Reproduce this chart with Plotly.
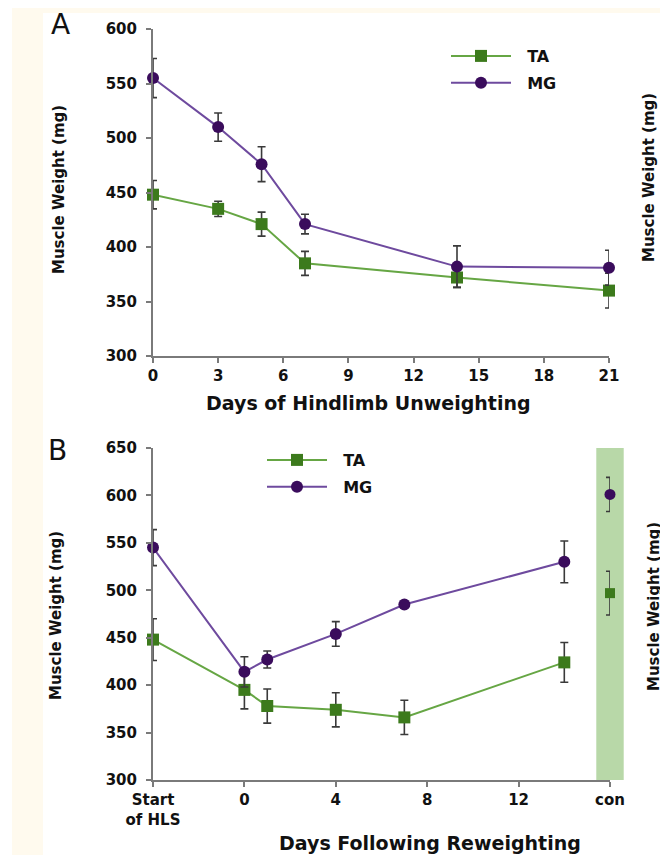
import plotly.graph_objects as go

# ---------------- Data ----------------
# Panel A: days of hindlimb unweighting
days_a = [0, 3, 5, 7, 14, 21]
ta_a = [448, 435, 421, 385, 372, 360]
ta_a_err = [13, 7, 11, 11, 9, 16]
mg_a = [555, 510, 476, 421, 382, 381]
mg_a_err = [18, 13, 16, 9, 19, 16]

# Panel B: days following reweighting (-4 = start of HLS, 16 = control)
days_b = [-4, 0, 1, 4, 7, 14]
ta_b = [448, 395, 378, 374, 366, 424]
ta_b_err = [22, 20, 18, 18, 18, 21]
mg_b = [545, 414, 427, 454, 485, 530]
mg_b_err = [19, 16, 9, 13, 0, 22]
con_x = [16]
ta_con = [497]
ta_con_err = [23]
mg_con = [601]
mg_con_err = [18]

xticks_a = [0, 3, 6, 9, 12, 15, 18, 21]
yticks_a = [300, 350, 400, 450, 500, 550, 600]
xticks_b = [-4, 0, 4, 8, 12, 16]
xticklabels_b = ["Start<br>of HLS", "0", "4", "8", "12", "con"]
yticks_b = [300, 350, 400, 450, 500, 550, 600, 650]
con_band = [15.4, 16.6]
series_names = ["TA", "MG"]

# ---------------- Styling ----------------
W, H = 668, 855
OFF = 8  # page body margin offset
FONT = "DejaVu Sans"
TA_LINE, TA_MARK = "#66a644", "#3c7a1c"
MG_LINE, MG_MARK = "#6e4a9e", "#3a0c5c"
ERR = "#3a3a3a"
AXIS = "#7a7a7a"
PAD = "\u00a0\u00a0"


def px(x):
    return (x - OFF) / W


def py(y):
    return 1 - (y - OFF) / H


def err(vals):
    return dict(type="data", array=vals, visible=True, color=ERR, thickness=1.6, width=4)


fig = go.Figure()

# Panel A
fig.add_trace(go.Scatter(x=days_a, y=ta_a, error_y=err(ta_a_err), mode="lines+markers", name=PAD + series_names[0],
                         line=dict(color=TA_LINE, width=2),
                         marker=dict(symbol="square", size=12, color=TA_MARK),
                         cliponaxis=False, xaxis="x", yaxis="y", legend="legend", legendgroup="a1"))
fig.add_trace(go.Scatter(x=days_a, y=mg_a, error_y=err(mg_a_err), mode="lines+markers", name=PAD + series_names[1],
                         line=dict(color=MG_LINE, width=2),
                         marker=dict(symbol="circle", size=12, color=MG_MARK),
                         cliponaxis=False, xaxis="x", yaxis="y", legend="legend", legendgroup="a2"))

# Panel B
fig.add_trace(go.Scatter(x=days_b, y=ta_b, error_y=err(ta_b_err), mode="lines+markers", name=PAD + series_names[0],
                         line=dict(color=TA_LINE, width=2),
                         marker=dict(symbol="square", size=12, color=TA_MARK),
                         cliponaxis=False, xaxis="x2", yaxis="y2", legend="legend2", legendgroup="b1"))
fig.add_trace(go.Scatter(x=days_b, y=mg_b, error_y=err(mg_b_err), mode="lines+markers", name=PAD + series_names[1],
                         line=dict(color=MG_LINE, width=2),
                         marker=dict(symbol="circle", size=12, color=MG_MARK),
                         cliponaxis=False, xaxis="x2", yaxis="y2", legend="legend2", legendgroup="b2"))
fig.add_trace(go.Scatter(x=con_x, y=ta_con, error_y=err(ta_con_err), mode="markers", showlegend=False,
                         marker=dict(symbol="square", size=10, color=TA_MARK),
                         cliponaxis=False, xaxis="x2", yaxis="y2"))
fig.add_trace(go.Scatter(x=con_x, y=mg_con, error_y=err(mg_con_err), mode="markers", showlegend=False,
                         marker=dict(symbol="circle", size=11, color=MG_MARK),
                         cliponaxis=False, xaxis="x2", yaxis="y2"))

tickfont = dict(family=FONT, size=15, color="#111", weight="bold")
axis_common = dict(showline=True, linecolor=AXIS, linewidth=2, ticks="outside", ticklen=5,
                   tickcolor=AXIS, tickwidth=2, showgrid=False, zeroline=False, tickfont=tickfont,
                   automargin=False)

legend_common = dict(font=dict(family=FONT, size=16, color="#111", weight="bold"),
                     bgcolor="rgba(0,0,0,0)", tracegroupgap=3, itemwidth=60,
                     traceorder="grouped", xanchor="left", yanchor="top")

xa_dom = [px(153), px(609)]
xb_dom = [px(153), px(610)]
xb_range = [-4, 16]


def xb_to_paper(v):
    f = (v - xb_range[0]) / (xb_range[1] - xb_range[0])
    return xb_dom[0] + f * (xb_dom[1] - xb_dom[0])


fig.update_layout(
    width=W, height=H, margin=dict(l=0, r=0, t=0, b=0, autoexpand=False),
    paper_bgcolor="white", plot_bgcolor="white",
    xaxis=dict(domain=xa_dom, range=[0, 21], tickvals=xticks_a, anchor="y", **axis_common),
    yaxis=dict(domain=[py(356), py(29)], range=[300, 600], tickvals=yticks_a, anchor="x",
               ticklabelstandoff=6, **axis_common),
    xaxis2=dict(domain=xb_dom, range=xb_range, tickvals=xticks_b, ticktext=xticklabels_b,
                anchor="y2", **axis_common),
    yaxis2=dict(domain=[py(780), py(448)], range=[300, 650], tickvals=yticks_b, anchor="x2",
                ticklabelstandoff=6, **axis_common),
    legend=dict(x=px(446), y=py(39), **legend_common),
    legend2=dict(x=px(262), y=py(443), **legend_common),
    showlegend=True,
)

# Green control band in panel B (extends past the axis end, so placed in paper space)
fig.add_shape(type="rect", xref="paper", yref="paper",
              x0=xb_to_paper(con_band[0]), x1=xb_to_paper(con_band[1]), y0=py(780), y1=py(448),
              fillcolor="#b8d8a8", line=dict(width=0), layer="below")

# Cream frame on page edge
fig.add_shape(type="rect", xref="paper", yref="paper", x0=px(12), x1=1, y0=py(13), y1=1,
              fillcolor="#fffaee", line=dict(width=0), layer="below")
fig.add_shape(type="rect", xref="paper", yref="paper", x0=px(12), x1=px(43), y0=0, y1=1,
              fillcolor="#fffaee", line=dict(width=0), layer="below")

title_font = dict(family=FONT, size=19, color="#111", weight="bold")
ylab_font = dict(family=FONT, size=15, color="#111", weight="bold")

annotations = [
    dict(text="A", x=px(60), y=py(25), font=dict(family=FONT, size=28, color="#111")),
    dict(text="B", x=px(57), y=py(450), font=dict(family=FONT, size=28, color="#111")),
    dict(text="Days of Hindlimb Unweighting", x=px(368), y=py(403), font=title_font),
    dict(text="Days Following Reweighting", x=px(430), y=py(843), font=title_font),
    dict(text="Muscle Weight (mg)", x=px(59), y=py(190), textangle=-90, font=ylab_font),
    dict(text="Muscle Weight (mg)", x=px(56), y=py(616), textangle=-90, font=ylab_font),
    dict(text="Muscle Weight (mg)", x=px(649), y=py(178), textangle=-90, font=ylab_font),
    dict(text="Muscle Weight (mg)", x=px(654), y=py(607), textangle=-90, font=ylab_font),
]
for a in annotations:
    a.update(xref="paper", yref="paper", showarrow=False, xanchor="center", yanchor="middle")
    fig.add_annotation(**a)

fig.write_html("out.html")
